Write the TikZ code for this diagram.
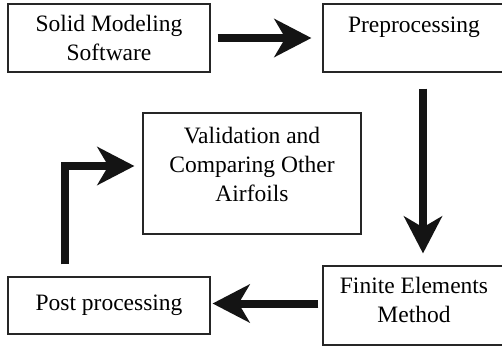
\documentclass[tikz,border=0pt]{standalone}
\usepackage{fontspec}
\setmainfont{Liberation Serif}
\usetikzlibrary{arrows.meta,calc}
\begin{document}
\begin{tikzpicture}[x=1pt,y=-1pt,
  box/.style={draw=black!85,line width=1.2pt,rectangle,inner sep=0pt},
  txt/.style={font=\fontsize{23.5}{29}\selectfont,align=center,inner sep=0pt},
  arr/.style={line width=8pt,-{Stealth[length=37pt,width=38pt,inset=11pt]},black!92}]
\useasboundingbox[fill=white] (0,0) rectangle (502,347);
% boxes
\node[box,minimum width=202pt,minimum height=68pt] (solid) at (109,38) {};
\node[box,minimum width=182pt,minimum height=68pt] (pre) at (414,38) {};
\node[box,minimum width=218pt,minimum height=121pt] (val) at (252,173.5) {};
\node[box,minimum width=202pt,minimum height=57pt] (post) at (109,305.5) {};
\node[box,minimum width=182pt,minimum height=79pt] (fem) at (414,305.5) {};
% texts
\node[txt] (tsolid) at (solid.center) {Solid Modeling\\Software};
\node[txt,anchor=base] (tpre) at (414,33) {Preprocessing};
\node[txt] (tval) at (252,164) {Validation and\\Comparing Other\\Airfoils};
\node[txt] (tpost) at (post.center) {Post processing};
\node[txt] (tfem) at (414,300) {Finite Elements\\Method};
% arrows
\draw[arr,shorten <=7pt,shorten >=11pt] (solid.east) -- (solid.east -| pre.west);
\draw[arr,shorten <=16pt,shorten >=12pt] ([xshift=9pt]pre.south) -- ([xshift=9pt]pre.south |- fem.north);
\draw[arr,shorten <=4pt,shorten >=2pt] ([yshift=2pt]fem.west) -- ([yshift=2pt]fem.west -| post.east);
\draw[arr,shorten <=12pt,shorten >=8pt] ([xshift=-44pt]post.north) |- ([yshift=7.5pt]val.west);
\end{tikzpicture}
\end{document}
